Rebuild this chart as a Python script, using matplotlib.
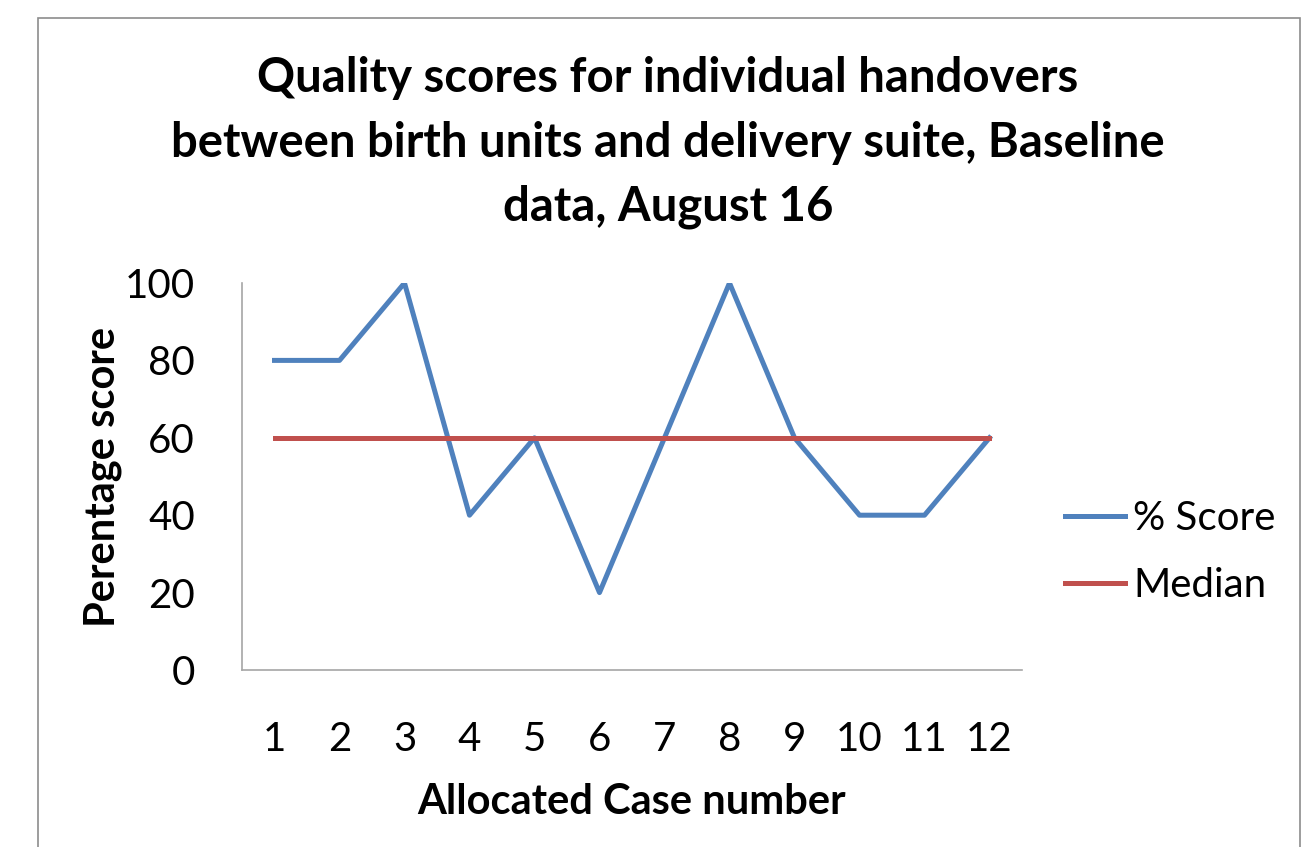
import matplotlib
matplotlib.use("Agg")
import matplotlib.pyplot as plt
from matplotlib.patches import Rectangle

plt.rcParams['font.family'] = ['Lato', 'DejaVu Sans']

cases = [1, 2, 3, 4, 5, 6, 7, 8, 9, 10, 11, 12]
score = [80, 80, 100, 40, 60, 20, 60, 100, 60, 40, 40, 60]
median = [60] * 12

fig = plt.figure(figsize=(13.08, 8.47), dpi=100)
fig.patches.append(Rectangle((38/1308, -0.01), (1300-38)/1308, 1 - 18/847 + 0.01,
                             transform=fig.transFigure, fill=False,
                             edgecolor='#8c8c8c', linewidth=1.2))

ax = fig.add_axes([242/1308, 1-670/847, 780/1308, 387/847])
ax.plot(cases, score, color='#4F81BD', lw=3.6, label='% Score')
ax.plot(cases, median, color='#C0504D', lw=3.6, label='Median')

ax.set_xlim(0.5, 12.5)
ax.set_ylim(0, 100)
ax.set_yticks([0, 20, 40, 60, 80, 100])
ax.set_xticks(cases)
ax.tick_params(length=0, labelsize=29)
ax.tick_params(axis='x', pad=37)
ax.tick_params(axis='y', pad=34)
for s in ['top', 'right']:
    ax.spines[s].set_visible(False)
for s in ['left', 'bottom']:
    ax.spines[s].set_color('#a6a6a6')
    ax.spines[s].set_linewidth(1.2)

ax.set_xlabel('Allocated Case number', fontsize=30, fontweight='bold', labelpad=18)
ax.set_ylabel('Perentage score', fontsize=30, fontweight='bold', labelpad=2)

fig.text(668/1308, 1-78/847, 'Quality scores for individual handovers',
         ha='center', va='center', fontsize=34, fontweight='bold')
fig.text(668/1308, 1-143/847, 'between birth units and delivery suite, Baseline',
         ha='center', va='center', fontsize=34, fontweight='bold')
fig.text(668/1308, 1-207/847, 'data, August 16',
         ha='center', va='center', fontsize=34, fontweight='bold')

ax.legend(loc='center left', bbox_to_anchor=(1.055, 0.305), frameon=False,
          fontsize=29, handlelength=1.5, handletextpad=0.2, labelspacing=0.75,
          borderpad=0, borderaxespad=0)

fig.savefig('out.png', dpi=100)
